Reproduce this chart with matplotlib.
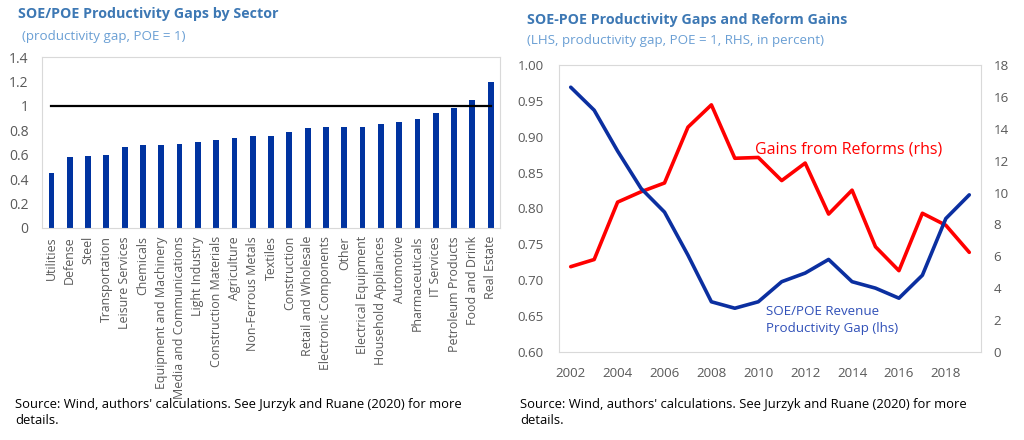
import matplotlib
matplotlib.use('Agg')
import matplotlib.pyplot as plt
import numpy as np

plt.rcParams['font.family'] = ['Open Sans', 'DejaVu Sans']

# left panel: productivity gap by sector (POE = 1)
sectors = ['Utilities', 'Defense', 'Steel', 'Transportation', 'Leisure Services',
           'Chemicals', 'Equipment and Machinery', 'Media and Communications',
           'Light Industry', 'Construction Materials', 'Agriculture',
           'Non-Ferrous Metals', 'Textiles', 'Construction', 'Retail and Wholesale',
           'Electronic Components', 'Other', 'Electrical Equipment',
           'Household Appliances', 'Automotive', 'Pharmaceuticals', 'IT Services',
           'Petroleum Products', 'Food and Drink', 'Real Estate']
gaps = [0.45, 0.58, 0.59, 0.60, 0.66, 0.68, 0.68, 0.69, 0.70, 0.72, 0.74,
        0.75, 0.75, 0.79, 0.82, 0.83, 0.83, 0.83, 0.85, 0.87, 0.89, 0.94,
        0.98, 1.05, 1.20]
parity = 1.0

# right panel: time series
years = list(range(2002, 2020))
rev_gap = [0.969, 0.937, 0.880, 0.828, 0.795, 0.735, 0.670, 0.661, 0.670,
           0.698, 0.710, 0.729, 0.698, 0.689, 0.675, 0.707, 0.786, 0.819]
reform_gains = [5.35, 5.8, 9.4, 10.05, 10.6, 14.1, 15.5, 12.15, 12.2, 10.75,
                11.85, 8.65, 10.15, 6.6, 5.1, 8.7, 7.95, 6.25]

title_col = '#3d78b4'
sub_col = '#6a9fd4'
tick_col = '#595959'
frame_col = '#d9d9d9'
bar_col = '#0033a0'
blue_line = '#0b2fa0'
red_line = '#ff0000'

fig = plt.figure(figsize=(10.24, 4.4), dpi=100)

# ---------------- left panel ----------------
ax1 = fig.add_axes([0.0413, 0.4825, 0.4468, 0.3873])
x = np.arange(len(sectors))
ax1.bar(x, gaps, width=0.32, color=bar_col)
ax1.plot([x[0], x[-1]], [parity, parity], color='black', lw=1.6)
ax1.set_xlim(-0.5, len(sectors) - 0.5)
ax1.set_ylim(0, 1.4)
ax1.set_yticks(np.arange(0, 1.41, 0.2))
ax1.set_yticklabels(['0', '0.2', '0.4', '0.6', '0.8', '1', '1.2', '1.4'])
ax1.set_xticks(x)
ax1.set_xticklabels(sectors, rotation=90, fontsize=8.9)
ax1.tick_params(axis='y', length=0, pad=10, labelsize=10, colors=tick_col)
ax1.tick_params(axis='x', length=0, pad=6, colors=tick_col)
for s in ax1.spines.values():
    s.set_color(frame_col)
    s.set_linewidth(0.8)

fig.text(0.018, 0.968, 'SOE/POE Productivity Gaps by Sector', fontsize=10.3,
         fontweight='bold', color=title_col, ha='left', va='center')
fig.text(0.021, 0.918, '(productivity gap, POE = 1)', fontsize=9.6,
         color=sub_col, ha='left', va='center')
fig.text(0.015, 0.062, "Source: Wind, authors' calculations. See Jurzyk and Ruane (2020) for more\ndetails.",
         fontsize=9.4, color='black', ha='left', va='center', linespacing=1.35)

# ---------------- right panel ----------------
ax2 = fig.add_axes([0.5459, 0.2, 0.4121, 0.6523])
ax2.plot(years, rev_gap, color=blue_line, lw=2.6, solid_capstyle='round', zorder=3)
ax2.set_xlim(2001.5, 2019.5)
ax2.set_ylim(0.6, 1.0)
ax2.set_yticks(np.arange(0.6, 1.001, 0.05))
ax2.yaxis.set_major_formatter(matplotlib.ticker.FormatStrFormatter('%.2f'))
ax2.set_xticks(range(2002, 2019, 2))
ax2.tick_params(axis='y', length=0, pad=11, labelsize=9.6, colors=tick_col)
ax2.tick_params(axis='x', length=0, pad=11, labelsize=9.6, colors=tick_col)
for s in ax2.spines.values():
    s.set_color(frame_col)
    s.set_linewidth(0.8)

ax3 = ax2.twinx()
ax3.plot(years, reform_gains, color=red_line, lw=2.6, solid_capstyle='round', zorder=2)
ax3.set_ylim(0, 18)
ax3.set_yticks(range(0, 19, 2))
ax3.tick_params(axis='y', length=0, pad=9, labelsize=9.6, colors=tick_col)
for s in ax3.spines.values():
    s.set_visible(False)
ax2.set_zorder(ax3.get_zorder() + 1)
ax2.patch.set_visible(False)

ax3.text(2009.85, 12.7, 'Gains from Reforms (rhs)', fontsize=11.5, color=red_line,
         ha='left', va='center')
ax2.text(2010.35, 0.665, 'SOE/POE Revenue\nProductivity Gap (lhs)', fontsize=9.6,
         color='#3050b8', ha='left', va='top', linespacing=1.35)

fig.text(0.5146, 0.955, 'SOE-POE Productivity Gaps and Reform Gains', fontsize=10.3,
         fontweight='bold', color=title_col, ha='left', va='center')
fig.text(0.5146, 0.908, '(LHS, productivity gap, POE = 1, RHS, in percent)', fontsize=9.6,
         color=sub_col, ha='left', va='center')
fig.text(0.508, 0.062, "Source: Wind, authors' calculations. See Jurzyk and Ruane (2020) for more\ndetails.",
         fontsize=9.4, color='black', ha='left', va='center', linespacing=1.35)

fig.savefig('out.png', dpi=100)
